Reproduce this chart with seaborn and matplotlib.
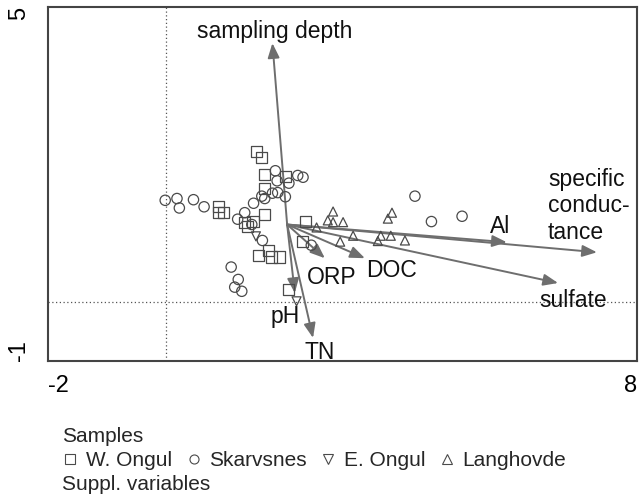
import numpy as np
import pandas as pd
import matplotlib
matplotlib.use("Agg")
import matplotlib.pyplot as plt
from matplotlib.lines import Line2D
import matplotlib.transforms as mtransforms
import seaborn as sns

# ---------------- data ----------------
w_ongul_x = [1.54, 1.63, 1.68, 2.03, 1.68, 0.89, 0.98, 0.89, 1.67, 1.33, 1.48, 1.38,
             2.37, 2.32, 1.74, 1.58, 1.80, 1.93, 2.09]
w_ongul_y = [2.54, 2.44, 2.16, 2.13, 1.92, 1.61, 1.51, 1.51, 1.48, 1.35, 1.36, 1.27,
             1.36, 1.03, 0.875, 0.785, 0.76, 0.76, 0.21]

skarvsnes_x = [-0.01, 0.19, 0.23, 0.47, 0.65, 1.86, 1.89, 2.09, 2.24, 2.33, 1.63, 1.68,
               1.81, 1.90, 2.03, 1.49, 1.34, 1.22, 1.46, 1.64, 2.47, 1.11, 1.23, 1.17,
               1.29, 4.23, 4.51, 5.03]
skarvsnes_y = [1.72, 1.75, 1.59, 1.73, 1.61, 2.22, 2.05, 2.01, 2.14, 2.11, 1.79, 1.75,
               1.84, 1.85, 1.78, 1.67, 1.51, 1.40, 1.31, 1.04, 0.96, 0.59, 0.38, 0.25,
               0.18, 1.79, 1.36, 1.45]

e_ongul_x = [1.53, 2.22]
e_ongul_y = [1.11, 0.01]

langhovde_x = [2.56, 2.75, 2.84, 2.84, 3.01, 2.96, 3.18, 3.65, 3.82, 3.60, 4.06, 3.84, 3.77]
langhovde_y = [1.26, 1.38, 1.53, 1.35, 1.35, 1.02, 1.12, 1.12, 1.12, 1.03, 1.04, 1.51, 1.41]

groups = ["W. Ongul", "Skarvsnes", "E. Ongul", "Langhovde"]
group_markers = ["s", "o", "v", "^"]

arrow_origin = (2.06, 1.31)
var_names = ["sampling depth", "TN", "pH", "ORP", "DOC", "Al",
             "specific\nconduc-\ntance", "sulfate"]
var_x = [1.81, 2.50, 2.19, 2.70, 3.38, 5.79, 7.32, 6.66]
var_y = [4.38, -0.61, 0.15, 0.74, 0.74, 1.01, 0.84, 0.32]
label_x = [1.85, 2.62, 2.02, 2.82, 3.84, 5.67, 6.49, 6.91]
label_y = [4.57, -0.85, -0.24, 0.42, 0.54, 1.28, 1.63, 0.03]

x_ticks = [-2, 0, 2, 4, 6, 8]
y_ticks = [-1, 0, 1, 2, 3, 4, 5]

# ---------------- figure ----------------
sns.set_theme(style="white")
plt.rcParams["font.family"] = ["Liberation Sans", "DejaVu Sans"]

fig = plt.figure(figsize=(6.44, 4.95), dpi=100)
ax = fig.add_axes([48 / 644, 1 - 361 / 495, (637 - 48) / 644, (361 - 6.5) / 495])

frames = []
for g, xs, ys in zip(groups,
                     [w_ongul_x, skarvsnes_x, e_ongul_x, langhovde_x],
                     [w_ongul_y, skarvsnes_y, e_ongul_y, langhovde_y]):
    frames.append(pd.DataFrame({"x": xs, "y": ys, "group": g}))
df = pd.concat(frames, ignore_index=True)

# reference lines
ax.axvline(0, color="#555555", lw=0.9, ls=(0, (1, 2)), zorder=0)
ax.axhline(0, color="#555555", lw=0.9, ls=(0, (1, 2)), zorder=0)

# arrows
arrow_color = "#6e6e6e"
for name, vx, vy, lx, ly in zip(var_names, var_x, var_y, label_x, label_y):
    ax.annotate("", xy=(vx, vy), xytext=arrow_origin,
                arrowprops=dict(arrowstyle="-|>,head_length=0.55,head_width=0.22",
                                color=arrow_color, lw=1.4, mutation_scale=16,
                                shrinkA=0, shrinkB=0), zorder=2)
    if "\n" in name:
        ax.text(lx, ly, name, ha="left", va="center", fontsize=16.5,
                linespacing=1.2, color="#111111")
    else:
        ax.text(lx, ly, name, ha="center", va="center", fontsize=16.5, color="#111111")

# sample points
for g, m in zip(groups, group_markers):
    sub = df[df["group"] == g]
    size = 64 if m == "s" else (55 if m == "o" else 42)
    sns.scatterplot(data=sub, x="x", y="y", marker=m, s=size, ax=ax,
                    facecolors="none", edgecolors="#4a4a4a", linewidth=0.9,
                    legend=False, zorder=3)
for coll in ax.collections:
    coll.set_facecolor("none")

ax.set_xlim(-2, 8)
ax.set_ylim(-1, 5)
ax.set_xlabel("")
ax.set_ylabel("")
ax.set_xticks(x_ticks)
ax.set_yticks(y_ticks)
ax.set_xticklabels(["-2", "", "", "", "", "8"], fontsize=17)
ax.set_yticklabels(["-1", "", "", "", "", "", "5"], fontsize=17, rotation=90)
xl = ax.get_xticklabels()
xl[0].set_ha("left")
xl[-1].set_ha("right")
yl = ax.get_yticklabels()
yl[0].set_va("bottom")
yl[-1].set_va("top")
yl[-1].set_transform(yl[-1].get_transform() +
                     mtransforms.ScaledTranslation(0, -4 / 100, fig.dpi_scale_trans))
ax.tick_params(axis="x", direction="inout", length=8, width=1.2, colors="#333333",
               labelcolor="black", pad=6)
ax.tick_params(axis="y", direction="out", length=5, width=1.2, colors="#333333",
               labelcolor="black", pad=8)
for sp in ax.spines.values():
    sp.set_visible(True)
    sp.set_color("#444444")
    sp.set_linewidth(1.5)

# legend
fig.text(62 / 644, 1 - 437 / 495, "Samples", fontsize=15, ha="left", va="center")
handles = [Line2D([0], [0], marker=m, ls="none", markerfacecolor="none",
                  markeredgecolor="#4a4a4a", markeredgewidth=0.8, markersize=6.5)
           for m in group_markers]
leg = fig.legend(handles, groups, ncol=4, frameon=False,
                 loc="center left", bbox_to_anchor=(63 / 644, 1 - 461 / 495),
                 fontsize=15, handlelength=0.7,
                 handletextpad=0.4, columnspacing=0.68, borderaxespad=0,
                 borderpad=0)
fig.text(62 / 644, 1 - 485 / 495, "Suppl. variables", fontsize=15,
         ha="left", va="center")

fig.savefig("out.png", dpi=100)
